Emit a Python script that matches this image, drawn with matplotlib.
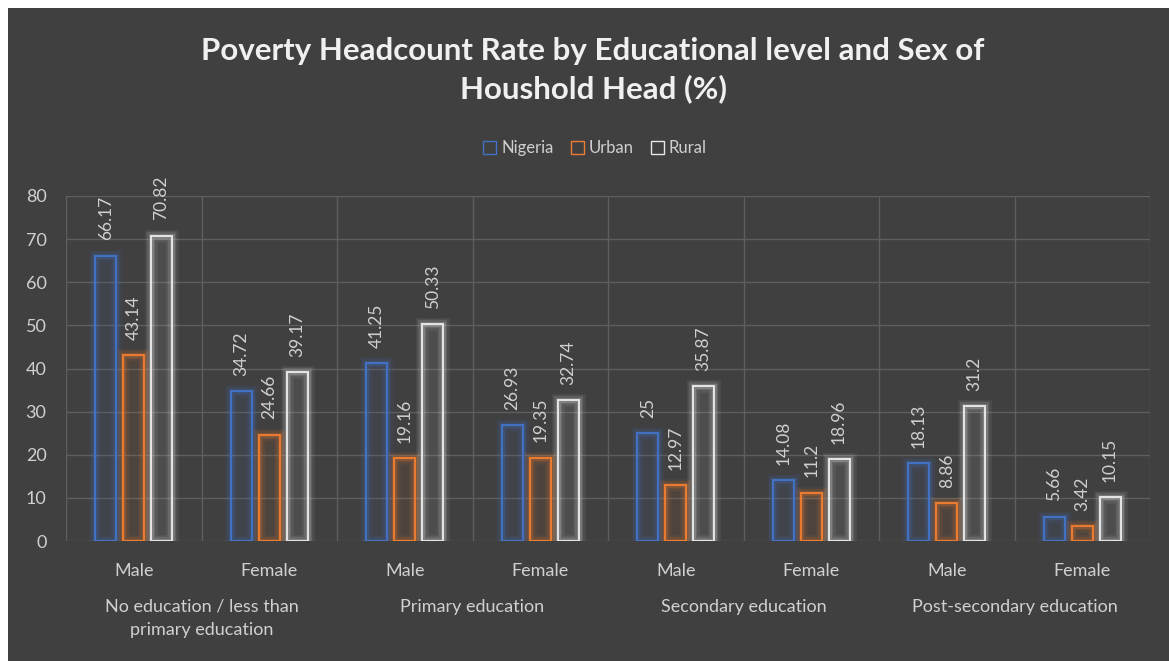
import matplotlib
matplotlib.use("Agg")
import matplotlib.pyplot as plt
from matplotlib.patches import Rectangle, Patch
import matplotlib.transforms as mtransforms
import numpy as np

# ---- data ----
sexes = ["Male", "Female", "Male", "Female", "Male", "Female", "Male", "Female"]
groups = ["No education / less than\nprimary education", "Primary education",
          "Secondary education", "Post-secondary education"]
nigeria = [66.17, 34.72, 41.25, 26.93, 25, 14.08, 18.13, 5.66]
urban = [43.14, 24.66, 19.16, 19.35, 12.97, 11.2, 8.86, 3.42]
rural = [70.82, 39.17, 50.33, 32.74, 35.87, 18.96, 31.2, 10.15]
series_names = ["Nigeria", "Urban", "Rural"]
label_texts = {
    "Nigeria": ["66.17", "34.72", "41.25", "26.93", "25", "14.08", "18.13", "5.66"],
    "Urban": ["43.14", "24.66", "19.16", "19.35", "12.97", "11.2", "8.86", "3.42"],
    "Rural": ["70.82", "39.17", "50.33", "32.74", "35.87", "18.96", "31.2", "10.15"],
}
yticks = [0, 10, 20, 30, 40, 50, 60, 70, 80]
title = "Poverty Headcount Rate by Educational level and Sex of\nHoushold Head (%)"

# ---- style ----
BG = "#404040"
GRID = "#5e5e5e"
TXT = "#d0d0d0"
colors = ["#4472C4", "#ED7D31", "#E6E6E6"]
plt.rcParams["font.family"] = ["Lato", "DejaVu Sans"]

W, H = 1169, 661
fig = plt.figure(figsize=(W / 100, H / 100), dpi=100, facecolor=BG)
# white strips at top and left
fig.patches.append(Rectangle((0, (H - 8) / H), 1, 8 / H, transform=fig.transFigure,
                             facecolor="white", edgecolor="none", zorder=10))
fig.patches.append(Rectangle((0, 0), 8 / W, 1, transform=fig.transFigure,
                             facecolor="white", edgecolor="none", zorder=10))

left, right = 66 / W, 1150 / W
bottom, top = (H - 541) / H, (H - 196) / H
ax = fig.add_axes([left, bottom, right - left, top - bottom])
ax.set_facecolor(BG)
ax.set_xlim(-0.5, len(sexes) - 0.5)
ax.set_ylim(0, 80)
for s in ax.spines.values():
    s.set_visible(False)

# gridlines
for y in yticks:
    ax.axhline(y, color=GRID, lw=1.0, zorder=0)
for xb in np.arange(-0.5, len(sexes) + 0.5, 1):
    ax.axvline(xb, color=GRID, lw=1.0, zorder=0)

ax.set_yticks(yticks)
ax.tick_params(axis="y", length=0, colors=TXT, labelsize=13, pad=14)
ax.set_xticks([])

x = np.arange(len(sexes))
width = 0.155
offsets = [-0.205, 0.0, 0.205]
for vals, col, off, name in zip([nigeria, urban, rural], colors, offsets, series_names):
    xs = x + off
    # glow layers
    for lw, a in [(9, 0.08), (6, 0.12), (3.5, 0.2)]:
        ax.bar(xs, vals, width=width, facecolor="none", edgecolor=col, linewidth=lw,
               alpha=a, zorder=2)
    ax.bar(xs, vals, width=width, facecolor=col, alpha=0.08, edgecolor="none", zorder=2)
    ax.bar(xs, vals, width=width, facecolor="none", edgecolor=col, linewidth=1.4, zorder=3)
    for xi, v, t in zip(xs, vals, label_texts[name]):
        ax.annotate(t, (xi, v), xytext=(0, 11), textcoords="offset points",
                    rotation=90, ha="center", va="bottom", color=TXT, fontsize=12.5,
                    zorder=4)

# category labels
trans = mtransforms.blended_transform_factory(ax.transData, fig.transFigure)
for xi, s in zip(x, sexes):
    ax.text(xi, (H - 571) / H, s, transform=trans, ha="center", va="center",
            color=TXT, fontsize=13)
for gi, g in enumerate(groups):
    ax.text(2 * gi + 0.5, (H - 599) / H, g, transform=trans, ha="center", va="top",
            color=TXT, fontsize=13, linespacing=1.55)

# title
fig.text(593 / W, (H - 70) / H, title, ha="center", va="center", color="#f0f0f0",
         fontsize=22.5, fontweight="bold", linespacing=1.4)

# legend
handles = [Patch(facecolor="none", edgecolor=c, linewidth=1.0, label=n)
           for c, n in zip(colors, series_names)]
fig.legend(handles=handles, loc="center", bbox_to_anchor=(595 / W, (H - 148) / H),
           ncol=3, frameon=False, fontsize=12, labelcolor=TXT, handlelength=0.8,
           handleheight=0.8, handletextpad=0.3, columnspacing=1.0)

fig.savefig("out.png", dpi=100, facecolor=BG)
